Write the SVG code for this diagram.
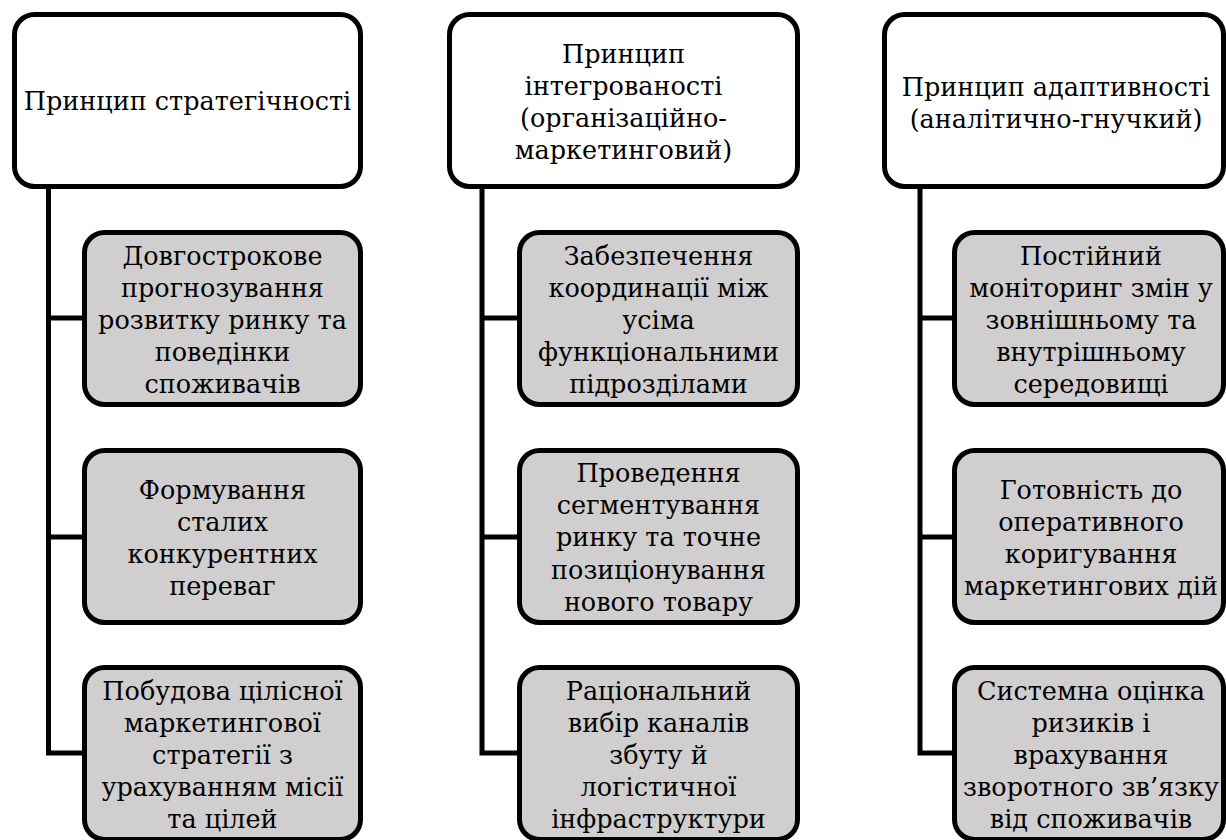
<svg xmlns="http://www.w3.org/2000/svg" width="1226" height="840" viewBox="0 0 1226 840">
<style>
.top{fill:#ffffff;stroke:#000;stroke-width:5}
.sub{fill:#d0cece;stroke:#000;stroke-width:5}
.conn{fill:none;stroke:#000;stroke-width:5;stroke-linejoin:miter}
.t{font-family:'DejaVu Serif','Liberation Serif',serif;font-size:25.5px;fill:#000;text-anchor:middle}
</style>
<rect width="1226" height="840" fill="#fff"/>
<g id="connectors">
<path class="conn" d="M48.5 189 V753 H84.5 M48.5 318 H84.5 M48.5 537 H84.5"/>
<path class="conn" d="M482 189 V753 H519.5 M482 318 H519.5 M482 537 H519.5"/>
<path class="conn" d="M920 189 V753 H954.5 M920 318 H954.5 M920 537 H954.5"/>
</g>
<g id="col1-top"><rect class="top" x="14.5" y="14.5" width="346" height="172" rx="20"/>
<text class="t" x="187.5" y="110">Принцип стратегічності</text></g>
<g id="col1-a"><rect class="sub" x="84.5" y="232.5" width="276" height="172" rx="20"/>
<text class="t" x="222.5"><tspan x="222.5" y="264.5">Довгострокове</tspan><tspan x="222.5" y="296.5">прогнозування</tspan><tspan x="222.5" y="328.5">розвитку ринку та</tspan><tspan x="222.5" y="360.5">поведінки</tspan><tspan x="222.5" y="392.5">споживачів</tspan></text></g>
<g id="col1-b"><rect class="sub" x="84.5" y="450.5" width="276" height="172" rx="20"/>
<text class="t" x="222.5"><tspan x="222.5" y="498.5">Формування</tspan><tspan x="222.5" y="530.5">сталих</tspan><tspan x="222.5" y="562.5">конкурентних</tspan><tspan x="222.5" y="594.5">переваг</tspan></text></g>
<g id="col1-c"><rect class="sub" x="84.5" y="667.5" width="276" height="172" rx="20"/>
<text class="t" x="222.5"><tspan x="222.5" y="699.5">Побудова цілісної</tspan><tspan x="222.5" y="731.5">маркетингової</tspan><tspan x="222.5" y="763.5">стратегії з</tspan><tspan x="222.5" y="795.5">урахуванням місії</tspan><tspan x="222.5" y="827.5">та цілей</tspan></text></g>
<g id="col2-top"><rect class="top" x="449.5" y="14.5" width="348" height="172" rx="20"/>
<text class="t" x="623.5"><tspan x="623.5" y="62.5">Принцип</tspan><tspan x="623.5" y="94.5">інтегрованості</tspan><tspan x="623.5" y="126.5">(організаційно-</tspan><tspan x="623.5" y="158.5">маркетинговий)</tspan></text></g>
<g id="col2-a"><rect class="sub" x="519.5" y="232.5" width="278" height="172" rx="20"/>
<text class="t" x="658.5"><tspan x="658.5" y="264.5">Забезпечення</tspan><tspan x="658.5" y="296.5">координації між</tspan><tspan x="658.5" y="328.5">усіма</tspan><tspan x="658.5" y="360.5">функціональними</tspan><tspan x="658.5" y="392.5">підрозділами</tspan></text></g>
<g id="col2-b"><rect class="sub" x="519.5" y="450.5" width="278" height="172" rx="20"/>
<text class="t" x="658.5"><tspan x="658.5" y="481.5">Проведення</tspan><tspan x="658.5" y="513.5">сегментування</tspan><tspan x="658.5" y="546">ринку та точне</tspan><tspan x="658.5" y="578.5">позиціонування</tspan><tspan x="658.5" y="610.5">нового товару</tspan></text></g>
<g id="col2-c"><rect class="sub" x="519.5" y="667.5" width="278" height="172" rx="20"/>
<text class="t" x="658.5"><tspan x="658.5" y="699.5">Раціональний</tspan><tspan x="658.5" y="731.5">вибір каналів</tspan><tspan x="658.5" y="763.5">збуту й</tspan><tspan x="658.5" y="795.5">логістичної</tspan><tspan x="658.5" y="827.5">інфраструктури</tspan></text></g>
<g id="col3-top"><rect class="top" x="884.5" y="14.5" width="339" height="172" rx="20"/>
<text class="t" x="1056"><tspan x="1056" y="96">Принцип адаптивності</tspan><tspan x="1056" y="128">(аналітично-гнучкий)</tspan></text></g>
<g id="col3-a"><rect class="sub" x="954.5" y="232.5" width="269" height="172" rx="20"/>
<text class="t" x="1091"><tspan x="1091" y="264.5">Постійний</tspan><tspan x="1091" y="296.5">моніторинг змін у</tspan><tspan x="1091" y="328.5">зовнішньому та</tspan><tspan x="1091" y="360.5">внутрішньому</tspan><tspan x="1091" y="392.5">середовищі</tspan></text></g>
<g id="col3-b"><rect class="sub" x="954.5" y="450.5" width="269" height="172" rx="20"/>
<text class="t" x="1091"><tspan x="1091" y="498.5">Готовність до</tspan><tspan x="1091" y="530.5">оперативного</tspan><tspan x="1091" y="562.5">коригування</tspan><tspan x="1091" y="594.5">маркетингових дій</tspan></text></g>
<g id="col3-c"><rect class="sub" x="954.5" y="667.5" width="269" height="172" rx="20"/>
<text class="t" x="1091"><tspan x="1091" y="699.5">Системна оцінка</tspan><tspan x="1091" y="731.5">ризиків і</tspan><tspan x="1091" y="763.5">врахування</tspan><tspan x="1091" y="795.5">зворотного зв’язку</tspan><tspan x="1091" y="827.5">від споживачів</tspan></text></g>
</svg>
